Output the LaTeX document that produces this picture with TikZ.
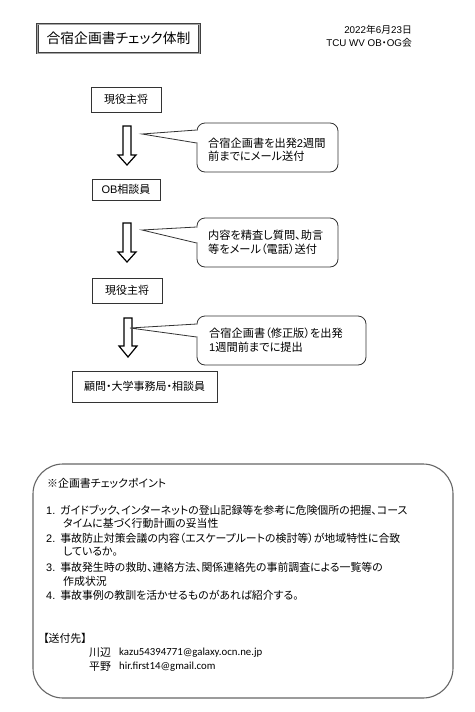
\documentclass[tikz,border=0pt]{standalone}
\usepackage{fontspec}
\setmainfont{Noto Sans CJK JP}[RawFeature=+palt]
\newfontfamily\arialf{Liberation Sans}
\newfontfamily\carlf{Carlito}
\newcommand\blkarrow[4]{%
  \draw[blkarr] (#1-4,#2) -- (#1-4,#3) -- (#1-9,#3) -- (#1,#4) -- (#1+9,#3) -- (#1+4,#3) -- (#1+4,#2) -- cycle;}
\tikzset{
  box/.style={draw=black!80, line width=0.8pt, inner sep=0pt, font=\fontsize{11}{13}\selectfont},
  blkarr/.style={draw=black, line width=1.2pt, fill=white, line join=miter},
  callbox/.style={draw=black!80, line width=0.8pt, rounded corners=8pt},
  ptr/.style={draw=black!80, line width=0.8pt},
  ctext/.style={anchor=west, inner sep=0pt, font=\fontsize{11.2}{13}\selectfont},
  ltext/.style={anchor=west, inner sep=0pt, font=\fontsize{10.9}{12}\selectfont},
  mail/.style={anchor=west, inner sep=0pt, font=\carlf\fontsize{10.8}{12}\selectfont},
}
\begin{document}
\begin{tikzpicture}[x=1pt,y=-1pt]
\useasboundingbox (0,0) rectangle (474,712);
% title
\node[draw=black!75, double=black!35, double distance=0.9pt, line width=0.7pt,
  minimum width=162pt, minimum height=29pt, inner sep=0pt,
  font=\fontsize{13.8}{15}\selectfont] (title) at (118.5,38.5) {合宿企画書チェック体制};
\node[anchor=east, inner sep=0pt, font=\fontsize{9.8}{11}\selectfont] (date) at (412,30)
  {{\arialf 2022}年{\arialf 6}月{\arialf 23}日};
\node[anchor=east, inner sep=0pt, font=\fontsize{9.8}{11}\selectfont] (org) at (412,43)
  {{\arialf TCU WV OB}・{\arialf OG}会};
% flow boxes
\node[box, minimum width=70pt, minimum height=25pt] (b1) at (126,99.5) {現役主将};
\node[box, minimum width=68pt, minimum height=21pt] (b2) at (126,189.5) {{\arialf OB}相談員};
\node[box, minimum width=70pt, minimum height=25pt] (b3) at (127,290.5) {現役主将};
\node[box, minimum width=145pt, minimum height=31pt] (b4) at (144.5,386.5) {顧問・大学事務局・相談員};
% block arrows
\blkarrow{127}{126}{155}{165}
\blkarrow{127}{223}{252}{262}
\blkarrow{128}{318}{346}{357}
% callout 1
\node[callbox, minimum width=141pt, minimum height=49pt] (c1) at (267.5,147.5) {};
\fill[white] (198.5,130.5) -- (142,134) -- (198.5,142.5) -- cycle;
\coordinate (p1) at (142,134);
\draw[ptr] (c1.west |- 0,130) -- (p1) -- (c1.west |- 0,143);
\node[ctext] (t1a) at (208,143) {合宿企画書を出発{\arialf 2}週間};
\node[ctext] (t1b) at (208,156) {前までにメール送付};
% callout 2
\node[callbox, minimum width=141pt, minimum height=49pt] (c2) at (267.5,242.5) {};
\fill[white] (198.5,227.5) -- (142,230) -- (198.5,242.5) -- cycle;
\coordinate (p2) at (142,230);
\draw[ptr] (c2.west |- 0,227) -- (p2) -- (c2.west |- 0,243);
\node[ctext] (t2a) at (208,235) {内容を精査し質問、助言};
\node[ctext] (t2b) at (208,249) {等をメール（電話）送付};
% callout 3
\node[callbox, minimum width=169pt, minimum height=49pt] (c3) at (281.5,340.5) {};
\fill[white] (198.5,324.5) -- (130,328) -- (198.5,336.5) -- cycle;
\coordinate (p3) at (130,328);
\draw[ptr] (c3.west |- 0,324) -- (p3) -- (c3.west |- 0,337);
\node[ctext] (t3a) at (209,333) {合宿企画書（修正版）を出発};
\node[ctext] (t3b) at (209,347) {{\arialf 1}週間前までに提出};
% big box
\node[draw=black!60, line width=1.1pt, rounded corners=30pt, minimum width=420pt, minimum height=234pt] (big) at (243,581) {};
\node[ltext] (h) at (47,483) {※企画書チェックポイント};
\node[ltext] (i1) at (46,510) {{\arialf 1.}\hspace{5pt}ガイドブック、インターネットの登山記録等を参考に危険個所の把握、コース};
\node[ltext] (i1b) at (63,523) {タイムに基づく行動計画の妥当性};
\node[ltext] (i2) at (46,538) {{\arialf 2.}\hspace{5pt}事故防止対策会議の内容（エスケープルートの検討等）が地域特性に合致};
\node[ltext] (i2b) at (63,552) {しているか。};
\node[ltext] (i3) at (46,567) {{\arialf 3.}\hspace{5pt}事故発生時の救助、連絡方法、関係連絡先の事前調査による一覧等の};
\node[ltext] (i3b) at (63,581) {作成状況};
\node[ltext] (i4) at (46,595) {{\arialf 4.}\hspace{5pt}事故事例の教訓を活かせるものがあれば紹介する。};
\node[ltext] (s) at (43,638) {【送付先】};
\node[ltext] (n1) at (89,653) {川辺};
\node[mail] (e1) at (119,653) {kazu54394771@galaxy.ocn.ne.jp};
\node[ltext] (n2) at (89,667) {平野};
\node[mail] (e2) at (119,667) {hir.first14@gmail.com};
\end{tikzpicture}
\end{document}
